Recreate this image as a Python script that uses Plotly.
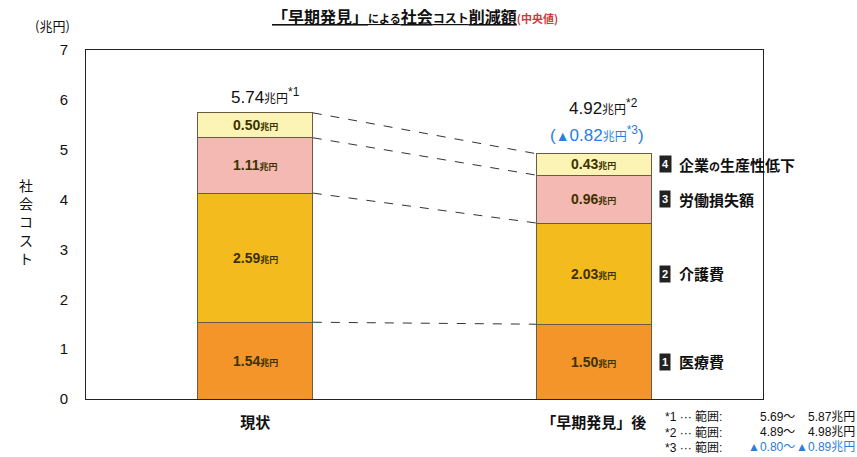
import plotly.graph_objects as go

# Categories and stacked components (兆円)
categories = ["現状", "「早期発見」後"]
series_names = ["医療費", "介護費", "労働損失額", "企業の生産性低下"]
series_values = [
    [1.54, 1.50],   # 医療費
    [2.59, 2.03],   # 介護費
    [1.11, 0.96],   # 労働損失額
    [0.50, 0.43],   # 企業の生産性低下
]
totals = [5.74, 4.92]
reduction = 0.82
legend_labels = ["医療費", "介護費", "労働損失額", "企業<span style='font-size:11px'>の</span>生産性低下"]
footnotes = [
    ("*1 ··· 範囲:", "5.69～", "5.87兆円", "#111111"),
    ("*2 ··· 範囲:", "4.89～", "4.98兆円", "#111111"),
    ("*3 ··· 範囲:", "▲0.80～", "▲0.89兆円", "#2a7de1"),
]
y_ticks = [0, 1, 2, 3, 4, 5, 6, 7]

colors = ["#F4952A", "#F4BB1F", "#F3B9B2", "#FCF4B4"]
FONT = "Liberation Sans, Noto Sans CJK JP, sans-serif"
JP = "Noto Sans CJK JP, sans-serif"

W, H = 857, 457
L, R, T, B = 86, 763, 50, 399
BAR_W = 0.34


def px(p):
    return (p - L) / (R - L)


def py(q):
    return (B - q) / (B - T)


fig = go.Figure()

# stacked bars
for name, vals, col in zip(series_names, series_values, colors):
    fig.add_trace(go.Bar(
        x=[0, 1], y=vals, name=name, width=BAR_W,
        marker=dict(color=col, line=dict(color="#6b5a45", width=1)),
        showlegend=False, hoverinfo="skip",
    ))

# cumulative tops of each segment
cum = []
run = [0.0, 0.0]
for vals in series_values:
    run = [run[0] + vals[0], run[1] + vals[1]]
    cum.append(list(run))

# dashed connectors between segment tops
for c in cum:
    fig.add_trace(go.Scatter(
        x=[0 + BAR_W / 2, 1 - BAR_W / 2], y=[c[0], c[1]], mode="lines",
        line=dict(color="#333333", width=1, dash="dash"),
        showlegend=False, hoverinfo="skip",
    ))

ann = []


def note(**kw):
    kw.setdefault("showarrow", False)
    kw.setdefault("xanchor", "center")
    kw.setdefault("yanchor", "middle")
    ann.append(kw)


# value labels inside segments
for i, vals in enumerate(series_values):
    for j in range(2):
        mid = cum[i][j] - vals[j] / 2
        note(x=j, y=mid, xref="x", yref="y",
             text=f"<b>{vals[j]:.2f}</b><span style='font-size:9px'><b>兆円</b></span>",
             font=dict(family=FONT, size=14, color="#3b3200"))

# legend-style labels to the right of the second bar
for i, lab in enumerate(legend_labels):
    mid = cum[i][1] - series_values[i][1] / 2
    note(x=px(665), y=mid, xref="paper", yref="y",
         text=f"<b>{i + 1}</b>", bgcolor="#222222", borderpad=2,
         font=dict(family=FONT, size=11, color="white"))
    note(x=px(677), y=mid, xref="paper", yref="y", xanchor="left",
         text=f"<b>{lab}</b>", font=dict(family=JP, size=15, color="#111111"))

# totals above bars
note(x=0.03, y=totals[0], xref="x", yref="y", yshift=17,
     text=f"{totals[0]:.2f}<span style='font-size:12px'>兆円</span><sup>*1</sup>",
     font=dict(family=FONT, size=17, color="#111111"))
note(x=1.03, y=totals[1], xref="x", yref="y", yshift=47,
     text=f"{totals[1]:.2f}<span style='font-size:12px'>兆円</span><sup>*2</sup>",
     font=dict(family=FONT, size=17, color="#111111"))
note(x=1.01, y=totals[1], xref="x", yref="y", yshift=20,
     text=f"(<span style='font-size:14px'>▲</span>{reduction:.2f}<span style='font-size:12px'>兆円</span><sup>*3</sup>)",
     font=dict(family=FONT, size=17, color="#2a7de1"))

# title
note(x=px(415), y=py(16), xref="paper", yref="paper",
     text=("<b><u>「早期発見」<span style='font-size:11px'>による</span>社会"
           "<span style='font-size:12px'>コスト</span>削減額</u></b>"
           "<span style='font-size:11px;color:#d0393b'><b>(中央値)</b></span>"),
     font=dict(family=JP, size=16, color="#111111"))

# unit and axis title
note(x=px(52), y=py(26), xref="paper", yref="paper",
     text="(兆円)", font=dict(family=JP, size=13, color="#111111"))
note(x=px(26), y=py(221), xref="paper", yref="paper",
     text="社<br>会<br>コ<br>ス<br>ト",
     font=dict(family=JP, size=14, color="#111111"))

# footnotes
for k, (a, b, c, col) in enumerate(footnotes):
    yy = py(417 + 15 * k)
    note(x=px(663), y=yy, xref="paper", yref="paper", xanchor="left",
         text=a, font=dict(family=FONT, size=12, color="#111111"))
    note(x=px(797), y=yy, xref="paper", yref="paper", xanchor="right",
         text=b, font=dict(family=FONT, size=12, color=col))
    note(x=px(857), y=yy, xref="paper", yref="paper", xanchor="right",
         text=c, font=dict(family=FONT, size=12, color=col))

fig.update_layout(
    width=W, height=H,
    margin=dict(l=L, r=W - R, t=T, b=H - B),
    barmode="stack",
    plot_bgcolor="white", paper_bgcolor="white",
    annotations=ann,
    xaxis=dict(
        range=[-0.5, 1.5], tickmode="array", tickvals=[0, 1],
        ticktext=[f"<b>{c}</b>" for c in categories],
        showline=True, linecolor="#222222", linewidth=1, mirror=True,
        showgrid=False, zeroline=False, ticks="", ticklabelstandoff=10,
        tickfont=dict(family=JP, size=15, color="#111111"),
    ),
    yaxis=dict(
        range=[0, 7], tickmode="array", tickvals=y_ticks,
        showline=True, linecolor="#222222", linewidth=1, mirror=True,
        showgrid=False, zeroline=False, ticks="", ticklabelstandoff=14,
        tickfont=dict(family=FONT, size=15, color="#111111"),
    ),
)

fig.write_html("out.html")
